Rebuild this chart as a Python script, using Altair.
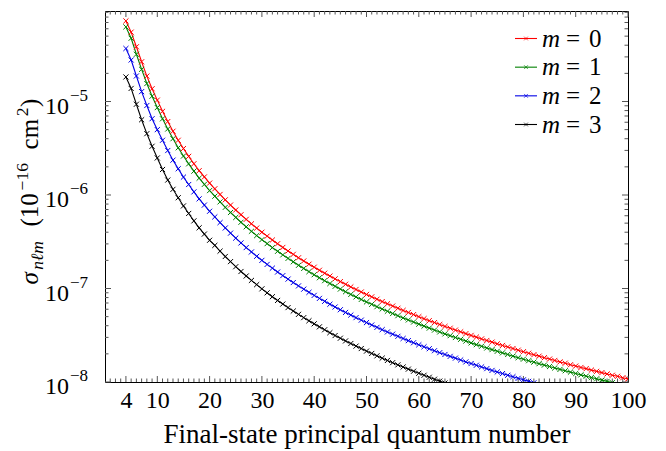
import altair as alt
import pandas as pd

# ---------------- data ----------------
N_START = 4
SERIES = ["m = 0", "m = 1", "m = 2", "m = 3"]
M_DIGITS = ["0", "1", "2", "3"]
COLORS = ["#ff0000", "#008000", "#0000e6", "#000000"]

RED = [7.28e-5, 5.52e-5, 3.85e-5, 2.66e-5, 1.87e-5, 1.37e-5, 1.035e-5,
       7.85e-6, 6.10e-6, 4.81e-6, 3.85e-6, 3.14e-6, 2.59e-6, 2.16e-6, 1.82e-6, 1.56e-6, 1.34e-6,
       1.166e-6, 1.014e-6, 8.88e-7, 7.81e-7, 6.91e-7, 6.15e-7, 5.49e-7, 4.92e-7, 4.43e-7, 4.00e-7,
       3.63e-7, 3.30e-7, 3.01e-7, 2.75e-7, 2.52e-7, 2.32e-7, 2.13e-7, 1.97e-7, 1.82e-7, 1.69e-7,
       1.567e-7, 1.458e-7, 1.358e-7, 1.268e-7, 1.185e-7, 1.110e-7, 1.040e-7, 9.77e-8, 9.18e-8, 8.64e-8,
       8.14e-8, 7.68e-8, 7.25e-8, 6.86e-8, 6.49e-8, 6.15e-8, 5.83e-8, 5.54e-8, 5.26e-8, 5.00e-8,
       4.76e-8, 4.53e-8, 4.32e-8, 4.12e-8, 3.93e-8, 3.76e-8, 3.59e-8, 3.44e-8, 3.29e-8, 3.15e-8,
       3.02e-8, 2.89e-8, 2.78e-8, 2.67e-8, 2.56e-8, 2.46e-8, 2.37e-8, 2.28e-8, 2.19e-8, 2.11e-8,
       2.03e-8, 1.96e-8, 1.89e-8, 1.82e-8, 1.76e-8, 1.70e-8, 1.64e-8, 1.59e-8, 1.53e-8, 1.48e-8,
       1.43e-8, 1.39e-8, 1.34e-8, 1.30e-8, 1.26e-8, 1.22e-8, 1.18e-8, 1.15e-8, 1.11e-8, 1.08e-8]

GREEN = [6.28e-5, 4.75e-5, 3.20e-5, 2.21e-5, 1.556e-5, 1.14e-5, 8.61e-6,
         6.53e-6, 5.08e-6, 4.00e-6, 3.20e-6, 2.61e-6, 2.155e-6, 1.80e-6, 1.514e-6, 1.30e-6, 1.115e-6,
         9.70e-7, 8.44e-7, 7.38e-7, 6.50e-7, 5.75e-7, 5.11e-7, 4.57e-7, 4.09e-7, 3.68e-7, 3.33e-7,
         3.02e-7, 2.74e-7, 2.50e-7, 2.29e-7, 2.10e-7, 1.93e-7, 1.77e-7, 1.64e-7, 1.515e-7, 1.404e-7,
         1.304e-7, 1.213e-7, 1.130e-7, 1.055e-7, 9.86e-8, 9.24e-8, 8.65e-8, 8.13e-8, 7.64e-8, 7.19e-8,
         6.77e-8, 6.39e-8, 6.04e-8, 5.71e-8, 5.40e-8, 5.12e-8, 4.85e-8, 4.61e-8, 4.38e-8, 4.16e-8,
         3.96e-8, 3.77e-8, 3.59e-8, 3.43e-8, 3.27e-8, 3.13e-8, 2.99e-8, 2.86e-8, 2.74e-8, 2.62e-8,
         2.51e-8, 2.41e-8, 2.31e-8, 2.22e-8, 2.13e-8, 2.05e-8, 1.97e-8, 1.89e-8, 1.82e-8, 1.755e-8,
         1.69e-8, 1.63e-8, 1.57e-8, 1.516e-8, 1.463e-8, 1.413e-8, 1.364e-8, 1.319e-8, 1.275e-8, 1.232e-8,
         1.192e-8, 1.154e-8, 1.117e-8, 1.082e-8, 1.048e-8, 1.016e-8, 9.84e-9]

BLUE = [3.69e-5, 2.78e-5, 1.875e-5, 1.276e-5, 9.06e-6, 6.55e-6, 5.00e-6,
        3.85e-6, 2.99e-6, 2.36e-6, 1.91e-6, 1.554e-6, 1.295e-6, 1.08e-6, 9.10e-7, 7.80e-7, 6.70e-7,
        5.83e-7, 5.07e-7, 4.44e-7, 3.91e-7, 3.46e-7, 3.07e-7, 2.74e-7, 2.46e-7, 2.21e-7, 2.00e-7,
        1.81e-7, 1.65e-7, 1.50e-7, 1.374e-7, 1.26e-7, 1.158e-7, 1.066e-7, 9.84e-8, 9.10e-8, 8.44e-8,
        7.84e-8, 7.29e-8, 6.79e-8, 6.34e-8, 5.93e-8, 5.55e-8, 5.20e-8, 4.88e-8, 4.59e-8, 4.32e-8,
        4.07e-8, 3.84e-8, 3.63e-8, 3.43e-8, 3.25e-8, 3.08e-8, 2.92e-8, 2.77e-8, 2.63e-8, 2.50e-8,
        2.38e-8, 2.27e-8, 2.16e-8, 2.06e-8, 1.97e-8, 1.88e-8, 1.80e-8, 1.72e-8, 1.64e-8, 1.575e-8,
        1.51e-8, 1.45e-8, 1.39e-8, 1.33e-8, 1.28e-8, 1.23e-8, 1.18e-8, 1.14e-8, 1.095e-8, 1.055e-8,
        1.016e-8, 9.80e-9]

BLACK = [1.83e-5, 1.38e-5, 9.35e-6, 6.38e-6, 4.53e-6, 3.32e-6, 2.49e-6,
         1.875e-6, 1.445e-6, 1.15e-6, 9.35e-7, 7.64e-7, 6.35e-7, 5.29e-7, 4.46e-7, 3.82e-7, 3.28e-7,
         2.89e-7, 2.51e-7, 2.20e-7, 1.94e-7, 1.71e-7, 1.52e-7, 1.36e-7, 1.22e-7, 1.10e-7, 9.92e-8,
         8.99e-8, 8.17e-8, 7.45e-8, 6.82e-8, 6.25e-8, 5.74e-8, 5.29e-8, 4.88e-8, 4.52e-8, 4.19e-8,
         3.89e-8, 3.62e-8, 3.37e-8, 3.14e-8, 2.94e-8, 2.75e-8, 2.58e-8, 2.42e-8, 2.28e-8, 2.14e-8,
         2.02e-8, 1.905e-8, 1.80e-8, 1.70e-8, 1.61e-8, 1.525e-8, 1.446e-8, 1.373e-8, 1.304e-8, 1.24e-8,
         1.18e-8, 1.124e-8, 1.071e-8, 1.022e-8, 9.75e-9]

X_TICKS = [4, 10, 20, 30, 40, 50, 60, 70, 80, 90, 100]
Y_MAJOR = [1e-8, 1e-7, 1e-6, 1e-5]
Y_EXP = ["\u22128", "\u22127", "\u22126", "\u22125"]

rows = []
for name, vals in zip(SERIES, [RED, GREEN, BLUE, BLACK]):
    for i, v in enumerate(vals):
        rows.append({"n": N_START + i, "sigma": v, "series": name})
df = pd.DataFrame(rows)

x_minor = [i for i in range(1, 100) if i not in X_TICKS]
y_minor = [k * 10.0 ** d for d in range(-8, -4) for k in range(2, 10)]

# ---------------- layout / style ----------------
W, H = 523, 371
FONT = "'Liberation Serif', 'Times New Roman', serif"
TICK_C = "#555555"
X_SCALE = alt.Scale(domain=[0, 100], nice=False, zero=False)
Y_SCALE = alt.Scale(type="log", domain=[1e-8, 9.29e-5], nice=False)
X_AXIS = alt.Axis(values=X_TICKS, ticks=False, domain=False, grid=False,
                  labelFont=FONT, labelFontSize=24, labelColor="black",
                  labelPadding=6, labelFlush=False, labelOverlap=False,
                  title="Final-state principal quantum number",
                  titleFont=FONT, titleFontSize=27, titleFontWeight="normal",
                  titleColor="black", titlePadding=9)
color = alt.Color("series:N", scale=alt.Scale(domain=SERIES, range=COLORS), legend=None)
XMARK = "M-1,-1L1,1M-1,1L1,-1"

base = alt.Chart(df)
lines = base.mark_line(strokeWidth=1.1, clip=True).encode(
    x=alt.X("n:Q", scale=X_SCALE, axis=X_AXIS),
    y=alt.Y("sigma:Q", scale=Y_SCALE, axis=None),
    color=color,
)
points = base.mark_point(shape=XMARK, filled=False, size=26, strokeWidth=1, opacity=1,
                         clip=True).encode(
    x=alt.X("n:Q", scale=X_SCALE, axis=X_AXIS),
    y=alt.Y("sigma:Q", scale=Y_SCALE, axis=None),
    color=color,
)

xmaj_df = pd.DataFrame({"v": X_TICKS})
xmin_df = pd.DataFrame({"v": x_minor})
ymaj_df = pd.DataFrame({"v": Y_MAJOR, "e": Y_EXP})
ymin_df = pd.DataFrame({"v": y_minor})


def xticks(d, length):
    bottom = alt.Chart(d).mark_rule(color=TICK_C, strokeWidth=1).encode(
        x=alt.X("v:Q", scale=X_SCALE, axis=X_AXIS), y=alt.value(H), y2=alt.value(H - length))
    top = alt.Chart(d).mark_rule(color=TICK_C, strokeWidth=1).encode(
        x=alt.X("v:Q", scale=X_SCALE, axis=X_AXIS), y=alt.value(0), y2=alt.value(length))
    return [bottom, top]


def yticks(d, length):
    left = alt.Chart(d).mark_rule(color=TICK_C, strokeWidth=1).encode(
        y=alt.Y("v:Q", scale=Y_SCALE, axis=None), x=alt.value(0), x2=alt.value(length))
    right = alt.Chart(d).mark_rule(color=TICK_C, strokeWidth=1).encode(
        y=alt.Y("v:Q", scale=Y_SCALE, axis=None), x=alt.value(W), x2=alt.value(W - length))
    return [left, right]


ylab_base = alt.Chart(ymaj_df).mark_text(align="right", baseline="alphabetic", dy=12,
                                         font=FONT, fontSize=24, color="black").encode(
    y=alt.Y("v:Q", scale=Y_SCALE, axis=None), x=alt.value(-36), text=alt.value("10"))
ylab_exp = alt.Chart(ymaj_df).mark_text(align="left", baseline="alphabetic", dy=-1,
                                        font=FONT, fontSize=17, color="black").encode(
    y=alt.Y("v:Q", scale=Y_SCALE, axis=None), x=alt.value(-35), text="e:N")

one = pd.DataFrame({"k": [0]})
Y0 = 273.5


def title_piece(txt, off, size, dy=0, italic=False):
    return alt.Chart(one).mark_text(angle=270, align="left", baseline="alphabetic", dy=dy,
                                    font=FONT, fontSize=size, color="black",
                                    fontStyle="italic" if italic else "normal").encode(
        x=alt.value(-67), y=alt.value(Y0 - off), text=alt.value(txt))


title_layers = [
    title_piece("\u03c3", 0, 25, italic=True),
    title_piece("n\u2113m", 14.8, 17.5, dy=5, italic=True),
    title_piece("(10", 58.0, 25),
    title_piece("\u221216", 94.1, 17.5, dy=-10),
    title_piece("cm", 135.1, 25),
    title_piece("2", 168.3, 17.5, dy=-10),
    title_piece(")", 177.4, 25),
]

main = alt.layer(
    *xticks(xmin_df, 3.5), *xticks(xmaj_df, 6),
    *yticks(ymin_df, 3.5), *yticks(ymaj_df, 6),
    lines, points, ylab_base, ylab_exp, *title_layers,
)

# ---------------- legend ----------------
leg_df = pd.DataFrame({"series": SERIES, "digit": M_DIGITS})
LEG_Y = alt.Y("series:N", scale=alt.Scale(type="point", domain=SERIES, range=[27.5, 113.5], padding=0),
              axis=None)
leg_line = alt.Chart(leg_df).mark_rule(strokeWidth=1.1).encode(
    y=LEG_Y, x=alt.value(410), x2=alt.value(432), color=color)
leg_pt = alt.Chart(leg_df).mark_point(shape=XMARK, filled=False, size=14, strokeWidth=1).encode(
    y=LEG_Y, x=alt.value(421), color=color)
leg_m = alt.Chart(leg_df).mark_text(align="left", baseline="middle", font=FONT, fontSize=25,
                                    fontStyle="italic", color="black").encode(
    y=LEG_Y, x=alt.value(437), text=alt.value("m"))
leg_eq = alt.Chart(leg_df).mark_text(align="left", baseline="middle", font=FONT, fontSize=25,
                                     color="black").encode(
    y=LEG_Y, x=alt.value(461), text=alt.value("="))
leg_d = alt.Chart(leg_df).mark_text(align="left", baseline="middle", font=FONT, fontSize=25,
                                    color="black").encode(
    y=LEG_Y, x=alt.value(484), text="digit:N")
legend = alt.layer(leg_line, leg_pt, leg_m, leg_eq, leg_d)

chart = alt.layer(main, legend).resolve_scale(y="independent").properties(
    width=W, height=H,
    autosize=alt.AutoSizeParams(type="none"),
    padding={"left": 97, "top": 3, "right": 30, "bottom": 68},
    background="white",
).configure_view(stroke="black", strokeWidth=1)

chart.save("out.html", embed_options={"renderer": "svg", "actions": False})
